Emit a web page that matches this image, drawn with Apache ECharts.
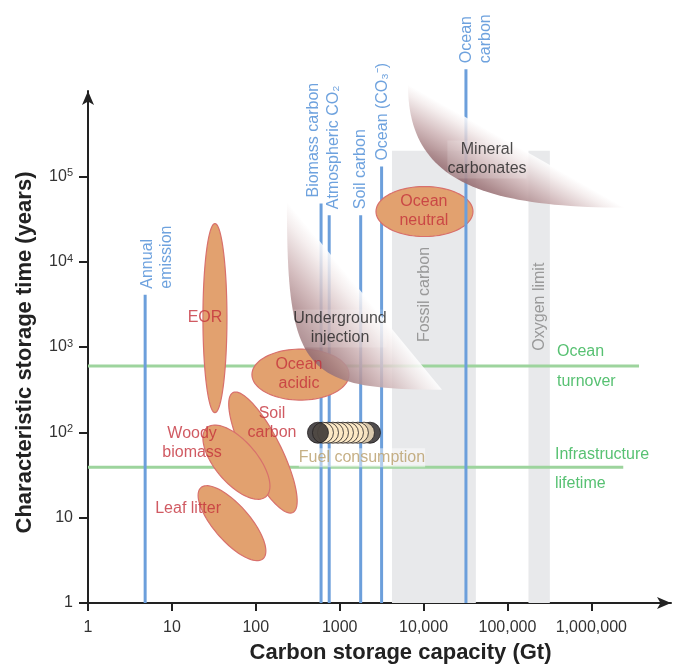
<!DOCTYPE html>
<html>
<head>
<meta charset="utf-8">
<script src="https://cdn.jsdelivr.net/npm/echarts@6/dist/echarts.min.js"></script>
<style>
  html, body { margin: 0; padding: 0; background: #fff; }
  #chart { width: 676px; height: 669px; }
</style>
</head>
<body>
<div id="chart"></div>
<script>
const FONT = '"Liberation Sans", Arial, sans-serif';

// axis ticks
const xTicks = [1, 10, 100, 1000, 10000, 100000, 1000000];
const xTickLabels = ['1', '10', '100', '1000', '10,000', '100,000', '1,000,000'];
const yTicks = [1, 10, 100, 1000, 10000, 100000];
const yTickLabels = ['1', '10', '10{s|2}', '10{s|3}', '10{s|4}', '10{s|5}'];

// carbon reservoirs: vertical lines (capacity in Gt, line top in years)
const reservoirNames = ['Annual\nemission', 'Biomass carbon', 'Atmospheric CO₂', 'Soil carbon', 'Ocean (CO₃⁻)', 'Ocean\ncarbon'];
const reservoirCapacity = [4.8, 600, 750, 1780, 3160, 32000];
const reservoirTop = [4100, 48000, 35000, 35000, 130000, 1800000];

// time limits: horizontal lines
const limitNames = ['Ocean turnover', 'Infrastructure lifetime'];
const limitYears = [600, 39];
const limitEnd = [3700000, 2400000];

// grey bands
const bandNames = ['Fossil carbon', 'Oxygen limit'];
const bandFrom = [4200, 178000];
const bandTo = [42000, 320000];
const bandTop = [200000, 200000];

// orange pools: major axis end points
const poolNames = ['EOR', 'Ocean acidic', 'Soil carbon', 'Woody biomass', 'Leaf litter', 'Ocean neutral'];
const poolX1 = [32.6, 90, 53.5, 26.2, 22.2, 2710];
const poolY1 = [28000, 475, 292, 113.5, 22.5, 38700];
const poolX2 = [32.6, 1290, 277, 132, 122, 38800];
const poolY2 = [170, 475, 11.5, 17.6, 3.3, 38700];

// shaded zones: top point and far tip
const zoneNames = ['Underground injection', 'Mineral carbonates'];
const zoneTopX = [235, 6520];
const zoneTopY = [50700, 1190000];
const zoneTipX = [16600, 2500000];
const zoneTipY = [316, 43000];

// fuel consumption discs
const fuelX = [2300, 1950, 1650, 1440, 1256, 1094, 955, 832, 726, 632, 551];
const fuelY = [99, 99, 99, 99, 99, 99, 99, 99, 99, 99, 99];

// text notes
const poolLabelText = ['EOR', 'Ocean\nacidic', 'Soil\ncarbon', 'Woody\nbiomass', 'Leaf litter', 'Ocean\nneutral'];
const poolLabelX = [24.8, 327, 156, 17.4, 15.6, 10100];
const poolLabelY = [2220, 475, 130, 73.8, 12.8, 38700];
const zoneLabelText = ['Underground\ninjection', 'Mineral\ncarbonates'];
const zoneLabelX = [1009, 57000];
const zoneLabelY = [1644, 158000];
const bandLabelX = [10400, 244000];
const bandLabelY = [4120, 2970];
const limitLabelText = ['Ocean', 'turnover', 'Infrastructure', 'lifetime'];
const limitLabelX = [389000, 389000, 368000, 368000];
const limitLabelY = [889, 393, 54.8, 25.1];
const fuelLabelText = ['Fuel consumption'];
const fuelLabelX = [1845];
const fuelLabelY = [50.5];

// sideways shift (px) of the rotated reservoir names
const RESERVOIR_LABEL_DX = [12, -7, 4, 0, 1, 10];
// pool ellipse minor axis (px)
const POOL_WIDTH = [24, 51, 37, 42, 36, 50];
// how square the curved edge of each zone is
const ZONE_BEND = [0.9, 0.72];

const BLUE = '#6c9fdb';
const BLUE_TEXT = '#4a8bd6';
const GREEN = '#9dd49d';
const GREEN_TEXT = '#2db24f';
const RED_TEXT = '#c4313b';

function renderBand(params, api) {
  const a = api.coord([api.value(0), 1]);
  const b = api.coord([api.value(1), api.value(2)]);
  return {
    type: 'rect',
    shape: { x: a[0], y: b[1], width: b[0] - a[0], height: a[1] - b[1] },
    style: { fill: '#e8e9eb' }
  };
}

function renderPool(params, api) {
  const a = api.coord([api.value(0), api.value(1)]);
  const b = api.coord([api.value(2), api.value(3)]);
  const cx = (a[0] + b[0]) / 2;
  const cy = (a[1] + b[1]) / 2;
  const rx = Math.hypot(b[0] - a[0], b[1] - a[1]) / 2;
  const ry = POOL_WIDTH[params.dataIndex] / 2;
  const ang = Math.atan2(b[1] - a[1], b[0] - a[0]);
  const pts = [];
  for (let i = 0; i < 90; i++) {
    const t = (i / 90) * Math.PI * 2;
    const ex = rx * Math.cos(t);
    const ey = ry * Math.sin(t);
    pts.push([cx + ex * Math.cos(ang) - ey * Math.sin(ang), cy + ex * Math.sin(ang) + ey * Math.cos(ang)]);
  }
  return {
    type: 'polygon',
    shape: { points: pts },
    style: { fill: '#e2a16f', stroke: '#d8706c', lineWidth: 1.2 }
  };
}

function renderZone(params, api) {
  const p0 = api.coord([api.value(0), api.value(1)]);
  const p3 = api.coord([api.value(2), api.value(3)]);
  const corner = [p0[0], p3[1]];
  const k = ZONE_BEND[params.dataIndex];
  const p1 = [p0[0], p0[1] + k * (corner[1] - p0[1])];
  const p2 = [p3[0] + k * (corner[0] - p3[0]), p3[1]];
  const pts = [];
  // curved lower-left edge, straight chord back to the top
  for (let i = 0; i <= 48; i++) {
    const t = i / 48;
    const u = 1 - t;
    pts.push([
      u * u * u * p0[0] + 3 * u * u * t * p1[0] + 3 * u * t * t * p2[0] + t * t * t * p3[0],
      u * u * u * p0[1] + 3 * u * u * t * p1[1] + 3 * u * t * t * p2[1] + t * t * t * p3[1]
    ]);
  }
  // shade across the chord: white at the chord, dark at the far edge
  const mx = (p0[0] + p3[0]) / 2;
  const my = (p0[1] + p3[1]) / 2;
  const len = Math.hypot(p3[0] - p0[0], p3[1] - p0[1]);
  let nx = -(p3[1] - p0[1]) / len;
  let ny = (p3[0] - p0[0]) / len;
  if (nx * (corner[0] - mx) + ny * (corner[1] - my) < 0) { nx = -nx; ny = -ny; }
  let d = 0;
  pts.forEach((p) => { d = Math.max(d, (p[0] - mx) * nx + (p[1] - my) * ny); });
  const fill = new echarts.graphic.LinearGradient(mx, my, mx + nx * d, my + ny * d, [
    { offset: 0, color: 'rgba(255,255,255,0.85)' },
    { offset: 0.15, color: 'rgba(243,235,235,0.82)' },
    { offset: 0.5, color: 'rgba(205,178,180,0.85)' },
    { offset: 0.85, color: 'rgba(165,128,131,0.9)' },
    { offset: 1, color: 'rgba(150,110,115,0.92)' }
  ], true);
  return { type: 'polygon', shape: { points: pts }, style: { fill } };
}

function textSeries(names, xs, ys, label, z) {
  return {
    type: 'scatter',
    silent: true,
    clip: false,
    symbolSize: 1,
    itemStyle: { color: 'transparent' },
    z: z || 20,
    data: names.map((n, i) => ({ name: n, value: [xs[i], ys[i]] })),
    label: Object.assign({
      show: true,
      position: 'inside',
      formatter: '{b}',
      fontSize: 16,
      fontFamily: FONT,
      lineHeight: 19
    }, label)
  };
}

const series = [];

series.push({
  type: 'custom',
  name: 'bands',
  silent: true,
  z: 1,
  clip: false,
  renderItem: renderBand,
  encode: { x: [0, 1], y: 2 },
  data: bandNames.map((n, i) => ({ name: n, value: [bandFrom[i], bandTo[i], bandTop[i]] }))
});

limitNames.forEach((n, i) => {
  series.push({
    type: 'line',
    name: n,
    silent: true,
    z: 2,
    clip: false,
    symbol: 'none',
    lineStyle: { color: GREEN, width: 3 },
    data: [[1, limitYears[i]], [limitEnd[i], limitYears[i]]]
  });
});

reservoirNames.forEach((n, i) => {
  series.push({
    type: 'line',
    name: n,
    silent: true,
    // ocean carbon line sits over the ocean pool in the source
    z: i === reservoirNames.length - 1 ? 5 : 3,
    clip: false,
    symbol: 'none',
    lineStyle: { color: BLUE, width: 3 },
    data: [[reservoirCapacity[i], 1], [reservoirCapacity[i], reservoirTop[i]]]
  });
});

series.push({
  type: 'custom',
  name: 'pools',
  silent: true,
  z: 4,
  clip: false,
  renderItem: renderPool,
  encode: { x: [0, 2], y: [1, 3] },
  data: poolNames.map((n, i) => ({ name: n, value: [poolX1[i], poolY1[i], poolX2[i], poolY2[i]] }))
});

series.push({
  type: 'custom',
  name: 'zones',
  silent: true,
  z: 6,
  clip: false,
  renderItem: renderZone,
  encode: { x: [0, 2], y: [1, 3] },
  data: zoneNames.map((n, i) => ({ name: n, value: [zoneTopX[i], zoneTopY[i], zoneTipX[i], zoneTipY[i]] }))
});

series.push({
  type: 'scatter',
  name: 'Fuel consumption',
  silent: true,
  z: 8,
  symbolSize: 21,
  data: fuelX.map((x, i) => ({
    value: [x, fuelY[i]],
    itemStyle: {
      color: (i === 0 || i === fuelX.length - 1) ? '#231f20' : '#fde8c6',
      borderColor: '#231f20',
      borderWidth: 1
    }
  }))
});

series.push(textSeries(poolLabelText, poolLabelX, poolLabelY, { color: RED_TEXT }));
series.push(textSeries(zoneLabelText, zoneLabelX, zoneLabelY, { color: '#1f1f1f', backgroundColor: 'rgba(255,255,255,0.2)' }));
series.push(textSeries(bandNames, bandLabelX, bandLabelY, { color: '#858585', rotate: 90 }, 3));
series.push(textSeries(limitLabelText, limitLabelX, limitLabelY, { color: GREEN_TEXT, align: 'left' }));
series.push(textSeries(fuelLabelText, fuelLabelX, fuelLabelY, { color: '#b89c68', backgroundColor: 'rgba(255,255,255,0.6)' }, 9));

reservoirNames.forEach((n, i) => {
  // offset is in the rotated frame: [along the text, across it]
  series.push(textSeries([n], [reservoirCapacity[i]], [reservoirTop[i]], {
    color: BLUE_TEXT,
    rotate: 90,
    align: 'left',
    verticalAlign: 'middle',
    offset: [6, RESERVOIR_LABEL_DX[i]]
  }));
});

const axisLineStyle = { color: '#222', width: 2 };

const option = {
  animation: false,
  backgroundColor: '#fff',
  textStyle: { fontFamily: FONT },
  grid: { left: 88, right: 5, top: 91, bottom: 66, containLabel: false },
  xAxis: {
    type: 'log',
    logBase: 10,
    min: 1,
    max: 8900000,
    name: 'Carbon storage capacity (Gt)',
    nameLocation: 'middle',
    nameGap: 39,
    nameTextStyle: { fontSize: 22, fontWeight: 'bold', color: '#222', fontFamily: FONT, padding: [0, 0, 0, 42] },
    axisLine: { show: true, symbol: ['none', 'arrow'], symbolSize: [9, 14], lineStyle: axisLineStyle },
    axisTick: { show: true, customValues: xTicks, length: 8, lineStyle: axisLineStyle },
    axisLabel: {
      customValues: xTicks,
      fontSize: 16,
      color: '#333',
      margin: 17,
      formatter: (v) => xTickLabels[xTicks.indexOf(Math.round(v))] || ''
    },
    splitLine: { show: false },
    minorTick: { show: false }
  },
  yAxis: {
    type: 'log',
    logBase: 10,
    min: 1,
    max: 1000000,
    name: 'Characteristic storage time (years)',
    nameLocation: 'middle',
    nameGap: 52,
    nameTextStyle: { fontSize: 22, fontWeight: 'bold', color: '#222', fontFamily: FONT, padding: [0, 11, 0, 0] },
    axisLine: { show: true, symbol: ['none', 'arrow'], symbolSize: [9, 14], lineStyle: axisLineStyle },
    axisTick: { show: true, customValues: yTicks, length: 9, lineStyle: axisLineStyle },
    axisLabel: {
      customValues: yTicks,
      fontSize: 16,
      color: '#333',
      margin: 15,
      formatter: (v) => yTickLabels[yTicks.indexOf(Math.round(v))] || '',
      rich: { s: { fontSize: 11, verticalAlign: 'top', color: '#333', padding: [0, 0, 6, 0] } }
    },
    splitLine: { show: false },
    minorTick: { show: false }
  },
  series
};

const chart = echarts.init(document.getElementById('chart'));
chart.setOption(option);
</script>
</body>
</html>
